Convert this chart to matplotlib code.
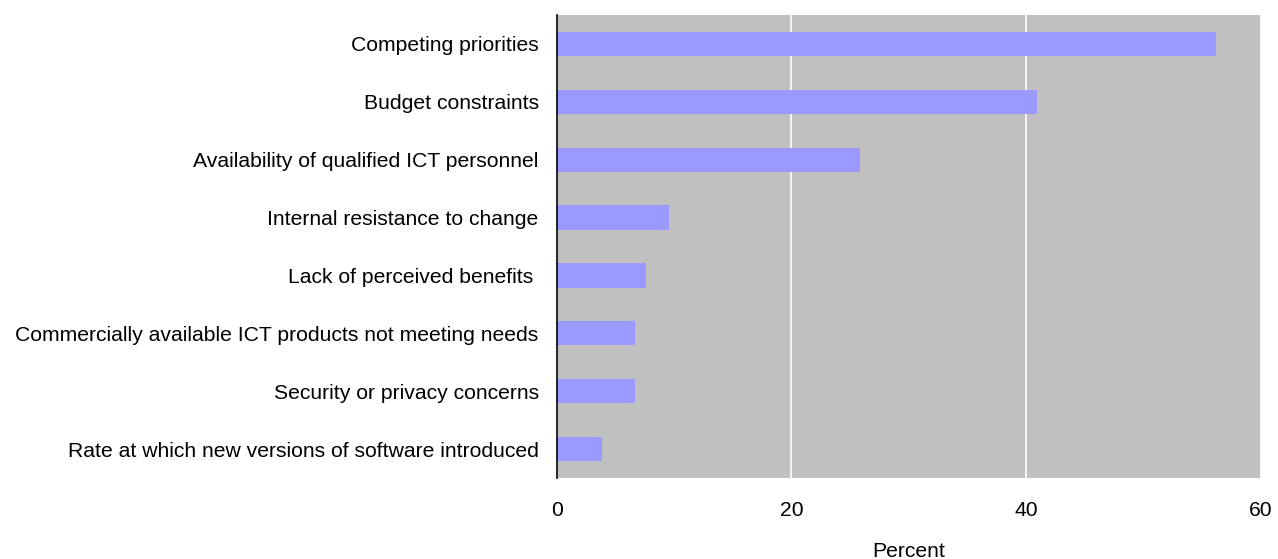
import matplotlib
matplotlib.use("Agg")
import matplotlib.pyplot as plt

categories = [
    "Competing priorities",
    "Budget constraints",
    "Availability of qualified ICT personnel",
    "Internal resistance to change",
    "Lack of perceived benefits ",
    "Commercially available ICT products not meeting needs",
    "Security or privacy concerns",
    "Rate at which new versions of software introduced",
]
percent = [56.2, 40.9, 25.8, 9.6, 7.6, 6.7, 6.7, 3.9]
x_ticks = [0, 20, 40, 60]

plt.rcParams["font.family"] = ["Liberation Sans", "DejaVu Sans"]
FS = 15.2

fig = plt.figure(figsize=(12.78, 5.59), dpi=100)
ax = fig.add_axes([0.4356, 0.1449, 0.5511, 0.8283])
ax.set_facecolor("#C0C0C0")

pos = list(range(len(categories)))
ax.barh(pos, percent, height=0.42, color="#9999FF", zorder=3)

ax.set_xlim(0, 60)
ax.set_ylim(len(categories) - 0.5, -0.5)
ax.set_yticks(pos)
ax.set_yticklabels(categories, fontsize=FS)
ax.set_xticks(x_ticks)
ax.set_xticklabels([str(t) for t in x_ticks], fontsize=FS)
ax.tick_params(axis="y", length=0, pad=13)
ax.tick_params(axis="x", length=0, pad=16.5)

ax.xaxis.grid(True, color="white", linewidth=1.2, zorder=1)
ax.set_axisbelow(True)

for side in ("top", "right", "bottom"):
    ax.spines[side].set_visible(False)
ax.spines["left"].set_color("black")
ax.spines["left"].set_linewidth(1.2)
ax.spines["left"].set_zorder(4)

ax.set_xlabel("Percent", fontsize=FS, labelpad=16)

fig.savefig("out.png", dpi=100)
